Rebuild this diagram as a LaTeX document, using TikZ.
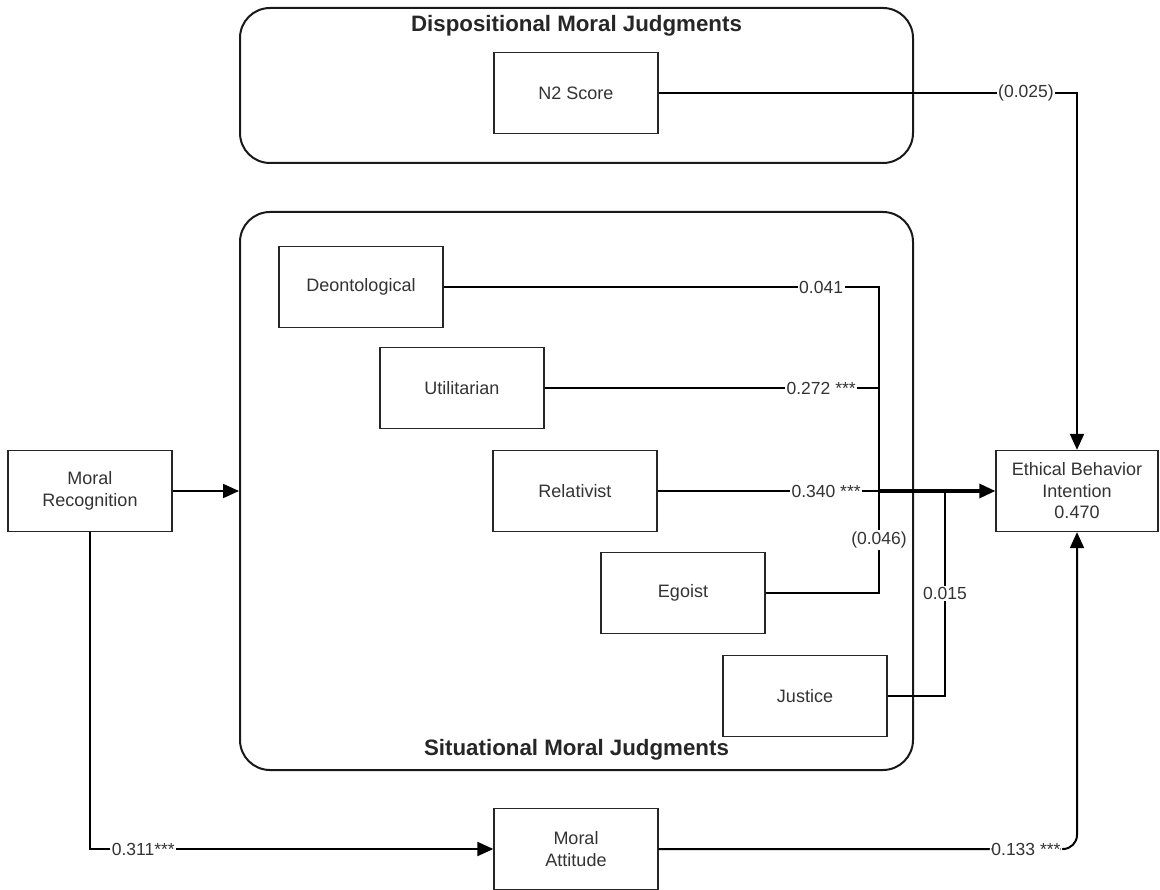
\documentclass[tikz,border=0pt]{standalone}
\usepackage{fontspec}
\setmainfont{Liberation Sans}
\usetikzlibrary{arrows.meta}
\begin{document}
\begin{tikzpicture}[x=1pt,y=-1pt,
  box/.style={draw=black!85, line width=1.3pt, fill=white, minimum width=164pt,
    minimum height=81pt, align=center, inner sep=0pt,
    font=\fontsize{18}{21.5}\selectfont, text=black!80},
  group/.style={draw=black!90, line width=2pt, rounded corners=30pt, inner sep=0pt},
  title/.style={font=\bfseries\fontsize{22.3}{26}\selectfont, text=black!85},
  link/.style={draw=black, line width=2pt},
  lab/.style={fill=white, inner sep=1.5pt, font=\fontsize{17.5}{20}\selectfont, text=black!80},
  tip/.style={-{Triangle[length=16pt,width=14pt]}}]

\useasboundingbox (0,0) rectangle (1160,890);

% grouping frames
\node[group, minimum width=673pt, minimum height=155pt] (disp) at (576.5,85.5) {};
\node[title] (disptitle) at (576.5,26) {Dispositional Moral Judgments};
\node[group, minimum width=673pt, minimum height=558pt] (sit) at (576.5,491) {};
\node[title] (sittitle) at (576.5,750) {Situational Moral Judgments};

% variables
\node[box] (n2)   at (576,93)  {N2 Score};
\node[box] (deon) at (361,287) {Deontological};
\node[box] (util) at (462,388) {Utilitarian};
\node[box] (rel)  at (575,491) {Relativist};
\node[box] (ego)  at (683,593) {Egoist};
\node[box] (jus)  at (805,696) {Justice};
\node[box] (rec)  at (90,491)  {Moral\\Recognition};
\node[box] (att)  at (576,849) {Moral\\Attitude};
\node[box, minimum width=162pt] (eth) at (1077,491) {Ethical Behavior\\Intention\\0.470};

% junctions where paths merge
\coordinate (jn) at (879,491);
\coordinate (jj) at (945,491);

% situational judgments to intention
\draw[link] (deon.east) -- node[lab,pos=0.867]{0.041} (deon.east -| jn) -- (jn);
\draw[link] (util.east) -- node[lab,pos=0.827]{0.272 ***} (util.east -| jn) -- (jn);
\draw[link] (rel.east) -- node[lab,pos=0.761]{0.340 ***} (jn);
\draw[link] (ego.east) -- (ego.east -| jn) -- node[lab,pos=0.52]{(0.046)} (jn);
\draw[link] (jus.east) -- (jus.east -| jj) -- node[lab,pos=0.5]{0.015} (jj);
\draw[link, line width=3.2pt, tip] (jn) -- (eth.west);

% dispositional judgment to intention
\draw[link, tip] (n2.east) -- node[lab,pos=0.878]{(0.025)} (n2.east -| eth) -- (eth.north);

% recognition paths
\draw[link, tip] (rec.east) -- (rec.east -| sit.west);
\draw[link, tip] (rec.south) |- node[lab,pos=0.566]{0.311***} (att.west);

% attitude to intention
\draw[link, tip, rounded corners=14pt] (att.east) -| node[lab,pos=0.439]{0.133 ***} (eth.south);
\end{tikzpicture}
\end{document}
